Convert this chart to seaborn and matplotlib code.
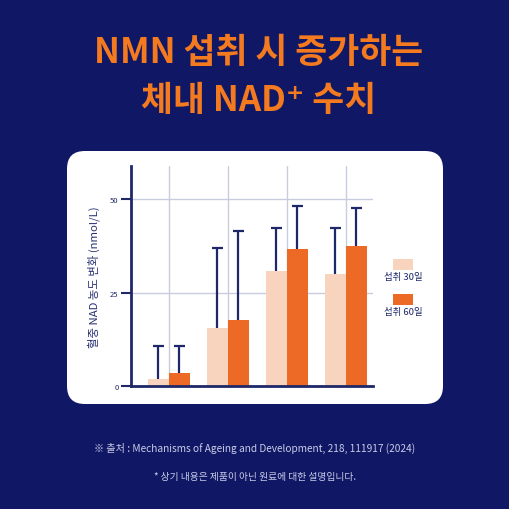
import matplotlib

matplotlib.use("Agg")
import matplotlib.pyplot as plt
import numpy as np
import pandas as pd
import seaborn as sns
from matplotlib.patches import FancyBboxPatch, Rectangle

# data
groups = ["1", "2", "3", "4"]
periods = ["섭취 30일", "섭취 60일"]
mean_30 = [2.0, 15.5, 30.8, 29.9]
mean_60 = [3.5, 17.6, 36.7, 37.6]
upper_30 = [10.7, 36.9, 42.2, 42.2]
upper_60 = [10.7, 41.6, 48.1, 47.6]
y_ticks = [0, 25, 50]

title = "NMN 섭취 시 증가하는\n체내 NAD⁺ 수치"
y_label = "혈중 NAD 농도 변화 (nmol/L)"
source = "※ 출처 : Mechanisms of Ageing and Development, 218, 111917 (2024)"
note = "* 상기 내용은 제품이 아닌 원료에 대한 설명입니다."

NAVY = "#101866"
ORANGE = "#F47A20"
LIGHT = "#F8D4BE"
DARK = "#EC6A26"
LINE = "#1E2868"
GRID = "#C9CCDD"
FOOT = "#C9CCE8"

sns.set_theme(style="white")
plt.rcParams["font.family"] = ["Noto Sans CJK KR", "DejaVu Sans"]

df = pd.DataFrame({
    "group": groups * 2,
    "period": [periods[0]] * 4 + [periods[1]] * 4,
    "value": mean_30 + mean_60,
})
upper = np.array(upper_30 + upper_60)

fig = plt.figure(figsize=(5.1, 5.1), dpi=100, facecolor=NAVY)

# white card behind the axes
card = FancyBboxPatch((67 / 510, 1 - 405 / 510), 376 / 510, 253 / 510,
                      boxstyle="round,pad=0,rounding_size=0.035",
                      transform=fig.transFigure, facecolor="white",
                      edgecolor="none", zorder=-5)
fig.patches.append(card)

title_lines = title.split("\n")
fig.text(0.507, 1 - 53 / 510, title_lines[0], ha="center", va="center",
         color=ORANGE, fontsize=25, fontweight="bold")
fig.text(0.507, 1 - 101 / 510, title_lines[1], ha="center", va="center",
         color=ORANGE, fontsize=25, fontweight="bold")

ax = fig.add_axes([131 / 510, 1 - 387 / 510, 242 / 510, 220 / 510])
ax.set_facecolor("none")

sns.barplot(data=df, x="group", y="value", hue="period",
            palette=[LIGHT, DARK], saturation=1, width=0.72, gap=0,
            errorbar=None, legend=False, linewidth=0, ax=ax, zorder=3)

# upper-only error bars from each bar's top
xs = np.array([p.get_x() + p.get_width() / 2 for p in ax.patches])
hs = np.array([p.get_height() for p in ax.patches])
cap = 0.095
ax.vlines(xs, hs, upper, color=LINE, linewidth=1.6, zorder=4)
ax.hlines(upper, xs - cap, xs + cap, color=LINE, linewidth=1.6, zorder=4)

ax.set_xlim(-0.64, 3.46)
ax.set_ylim(0, 58.9)
ax.set_yticks(y_ticks)
ax.set_xlabel("")
ax.set_ylabel(y_label, color="#2A3272", fontsize=8.2, labelpad=7)
ax.grid(True, color=GRID, linewidth=1, zorder=0)
ax.set_axisbelow(True)
ax.tick_params(axis="x", length=0, labelbottom=False)
ax.tick_params(axis="y", length=7, width=1.5, color=LINE, labelsize=5.5,
               labelcolor=LINE, pad=2, left=True)
for side in ["top", "right"]:
    ax.spines[side].set_visible(False)
for side in ["left", "bottom"]:
    ax.spines[side].set_color(LINE)
    ax.spines[side].set_linewidth(2)
    ax.spines[side].set_zorder(6)

# legend: swatch above label
for i, (lab, col) in enumerate(zip(periods, [LIGHT, DARK])):
    top = 260 + i * 35
    fig.patches.append(Rectangle((393 / 510, 1 - (top + 11) / 510), 20 / 510, 11 / 510,
                                 transform=fig.transFigure, facecolor=col,
                                 edgecolor="none"))
    fig.text(403 / 510, 1 - (top + 18) / 510, lab, ha="center", va="center",
             color=LINE, fontsize=6.8)

fig.text(0.5, 1 - 448 / 510, source, ha="center", va="center", color=FOOT, fontsize=7.3)
fig.text(0.5, 1 - 477 / 510, note, ha="center", va="center", color=FOOT, fontsize=7.0)

fig.savefig("out.png", dpi=100, facecolor=NAVY)
